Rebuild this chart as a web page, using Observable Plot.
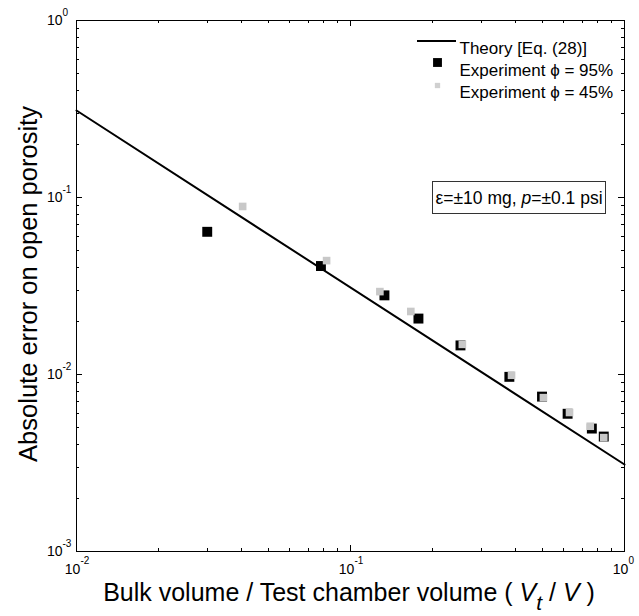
<!DOCTYPE html>
<html><head><meta charset="utf-8">
<script src="https://cdn.jsdelivr.net/npm/d3@7"></script>
<script src="https://cdn.jsdelivr.net/npm/@observablehq/plot@0.6"></script>
<style>
body{margin:0;background:#fff;}
#chart svg{font-family:"Liberation Sans",Arial,sans-serif;}
</style>
</head><body><div id="chart"></div>
<script>
// Theory line [Eq. (28)]
const theoryX = [0.01, 1];
const theoryY = [0.31, 0.0031];
// Experiment phi = 95%
const exp95X = [0.030, 0.078, 0.133, 0.177, 0.252, 0.38, 0.50, 0.62, 0.76, 0.84];
const exp95Y = [0.064, 0.041, 0.028, 0.0207, 0.0146, 0.0097, 0.0075, 0.0060, 0.00495, 0.00446];
// Experiment phi = 45%
const exp45X = [0.0404, 0.0818, 0.128, 0.166, 0.256, 0.387, 0.506, 0.63, 0.75, 0.84];
const exp45Y = [0.089, 0.044, 0.0294, 0.0227, 0.0148, 0.0099, 0.0074, 0.0061, 0.0051, 0.0044];
// tick labels (base 10 with exponents)
const xMajor = [0.01, 0.1, 1];
const xTickExp = ["-2", "-1", "0"];
const yMajor = [0.001, 0.01, 0.1, 1];
const yTickExp = ["-3", "-2", "-1", "0"];
const legendLabels = ["Theory [Eq. (28)]", "Experiment \u03d5 = 95%", "Experiment \u03d5 = 45%"];

const minorTicks = (lo, hi) => {
  const out = [];
  for (let e = lo; e < hi; e++) for (let k = 2; k <= 9; k++) out.push(k * Math.pow(10, e));
  return out;
};
const xMinor = minorTicks(-2, 0);
const yMinor = minorTicks(-3, 0);

const theory = theoryX.map((x, i) => ({x, y: theoryY[i]}));
const e95 = exp95X.map((x, i) => ({x, y: exp95Y[i]}));
const e45 = exp45X.map((x, i) => ({x, y: exp45Y[i]}));

const W = 639, H = 616, ML = 76, MR = 15, MT = 20, MB = 65;
const lab = (arr, labels) => d => labels[arr.indexOf(d)];

const plot = Plot.plot({
  width: W, height: H,
  marginLeft: ML, marginRight: MR, marginTop: MT, marginBottom: MB,
  style: {fontFamily: "Liberation Sans, Arial, sans-serif", fontSize: "14px", color: "black", background: "white"},
  x: {type: "log", domain: [0.01, 1]},
  y: {type: "log", domain: [0.001, 1]},
  marks: [
    Plot.line(theory, {x: "x", y: "y", stroke: "black", strokeWidth: 2}),
    Plot.dot(e95, {x: "x", y: "y", symbol: "square", r: 5.6, fill: "black", stroke: "none"}),
    Plot.dot(e45, {x: "x", y: "y", symbol: "square", r: 4.3, fill: "#c8c8c8", stroke: "none"}),
    Plot.frame({stroke: "black", strokeWidth: 1}),
    // tick labels: base "10" and superscript exponent
    Plot.axisX({anchor: "bottom", ticks: xMajor, tickFormat: () => "10", tickSize: 0, tickPadding: 13, dx: -4, fontSize: 14, label: null}),
    Plot.axisX({anchor: "bottom", ticks: xMajor, tickFormat: lab(xMajor, xTickExp), tickSize: 0, tickPadding: 5, dx: 4, textAnchor: "start", fontSize: 10, label: null}),
    Plot.axisY({anchor: "left", ticks: yMajor, tickFormat: () => "10", tickSize: 0, tickPadding: 14, fontSize: 14, label: null}),
    Plot.axisY({anchor: "left", ticks: yMajor, tickFormat: lab(yMajor, yTickExp), tickSize: 0, tickPadding: 14, dy: -8, textAnchor: "start", fontSize: 10, label: null}),
    // legend
    Plot.text([legendLabels[0]], {frameAnchor: "top-left", dx: 383, dy: 21, text: d => d, textAnchor: "start", fontSize: 17}),
    Plot.text([legendLabels[1]], {frameAnchor: "top-left", dx: 383, dy: 43, text: d => d, textAnchor: "start", fontSize: 17}),
    Plot.text([legendLabels[2]], {frameAnchor: "top-left", dx: 383, dy: 65, text: d => d, textAnchor: "start", fontSize: 17}),
    Plot.dot([0], {frameAnchor: "top-left", dx: 361, dy: 42, symbol: "square", r: 5, fill: "black"}),
    Plot.dot([0], {frameAnchor: "top-left", dx: 361, dy: 65, symbol: "square", r: 3, fill: "#d0d0d0"})
  ]
});

const svg = d3.select(plot);
const sx = plot.scale("x"), sy = plot.scale("y");
const tg = svg.append("g").attr("stroke", "black").attr("stroke-width", 1);
const x0 = ML, x1 = W - MR, y0 = MT, y1 = H - MB;
for (const [vals, len] of [[xMajor, 6], [xMinor, 3]]) {
  for (const v of vals) {
    const px = Math.round(sx.apply(v)) + 0.5;
    tg.append("line").attr("x1", px).attr("x2", px).attr("y1", y1).attr("y2", y1 - len);
    tg.append("line").attr("x1", px).attr("x2", px).attr("y1", y0).attr("y2", y0 + len);
  }
}
for (const [vals, len] of [[yMajor, 6], [yMinor, 3]]) {
  for (const v of vals) {
    const py = Math.round(sy.apply(v)) + 0.5;
    tg.append("line").attr("y1", py).attr("y2", py).attr("x1", x0).attr("x2", x0 + len);
    tg.append("line").attr("y1", py).attr("y2", py).attr("x1", x1).attr("x2", x1 - len);
  }
}

// legend line
svg.append("line").attr("x1", 417).attr("x2", 456).attr("y1", MT + 21).attr("y2", MT + 21)
  .attr("stroke", "black").attr("stroke-width", 2);

// annotation box
const ann = svg.append("g");
ann.append("rect").attr("x", 432.5).attr("y", 181.5).attr("width", 173).attr("height", 32)
  .attr("fill", "white").attr("stroke", "#333").attr("stroke-width", 1);
const at = ann.append("text").attr("x", 519).attr("y", 203.5).attr("text-anchor", "middle")
  .attr("font-size", 17.5).attr("fill", "black");
at.append("tspan").text("\u03b5=\u00b110 mg, ");
at.append("tspan").attr("font-style", "italic").text("p");
at.append("tspan").text("=\u00b10.1 psi");

// x axis label
const xl = svg.append("text").attr("x", 349).attr("y", 601)
  .attr("text-anchor", "middle").attr("font-size", 25).attr("fill", "black");
xl.append("tspan").text("Bulk volume / Test chamber volume ( ");
xl.append("tspan").attr("font-style", "italic").text("V");
xl.append("tspan").attr("font-style", "italic").attr("font-size", 21).attr("dy", 9).text("t");
xl.append("tspan").attr("dy", -9).text(" / ");
xl.append("tspan").attr("font-style", "italic").text("V");
xl.append("tspan").text(" )");

// y axis label
svg.append("text").attr("transform", `translate(37,284) rotate(-90)`)
  .attr("text-anchor", "middle").attr("font-size", 25.5).attr("fill", "black")
  .text("Absolute error on open porosity");

document.getElementById("chart").appendChild(plot);
</script>
</body></html>
